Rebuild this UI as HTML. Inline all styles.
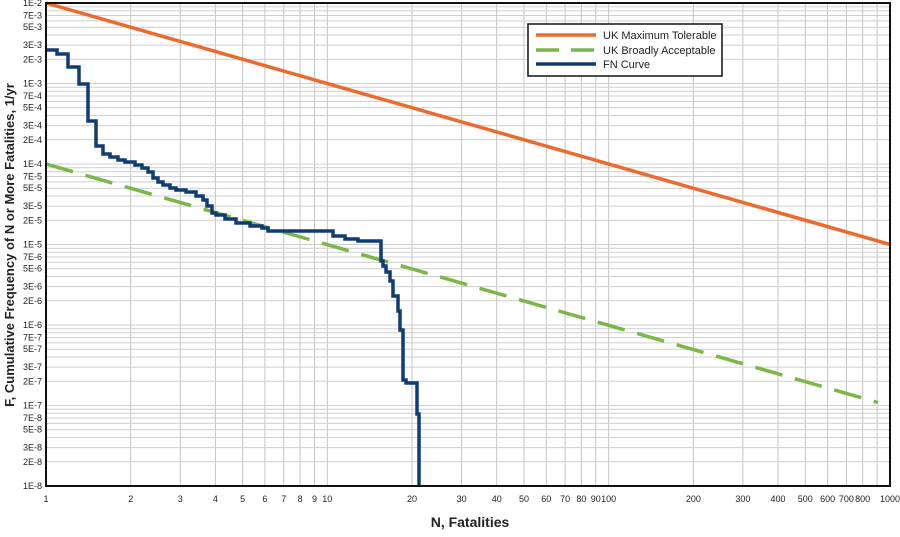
<!DOCTYPE html>
<html><head><meta charset="utf-8"><style>
body{margin:0;background:#fff;width:900px;height:532px;overflow:hidden}
svg text{font-family:"Liberation Sans",sans-serif}
</style></head><body>
<svg id="s" width="900" height="532" xmlns="http://www.w3.org/2000/svg"></svg>
<script>
const L=46,R=890,T=3,B=486;
const X=v=>L+Math.log10(v)*(R-L)/3;
const Y=v=>T+(-2-Math.log10(v))*(B-T)/6;
let h='';
for(let d=0;d<3;d++)for(let m=1;m<10;m++){const v=m*Math.pow(10,d);if(v>1&&v<1000){const x=X(v).toFixed(1);h+=`<line x1="${x}" y1="${T}" x2="${x}" y2="${B}" stroke="#c4c4c4" stroke-width="1"/>`;}}
for(let e=-8;e<-2;e++)for(let m=1;m<10;m++){const v=m*Math.pow(10,e);if(v>1e-8){const y=Y(v).toFixed(1);h+=`<line x1="${L}" y1="${y}" x2="${R}" y2="${y}" stroke="#cfcfcf" stroke-width="1"/>`;}}
// y labels
for(let e=-8;e<=-2;e++)for(const m of [1,2,3,5,7]){if(e==-2&&m>1)continue;const v=m*Math.pow(10,e);h+=`<text x="42" y="${(Y(v)+3).toFixed(1)}" font-size="9" text-anchor="end" fill="#222">${m}E${e}</text>`;}
// x labels
const xl=[1,2,3,4,5,6,7,8,9,10,20,30,40,50,60,70,80,90,100,200,300,400,500,600,700,800,1000];
for(const v of xl)h+=`<text x="${X(v).toFixed(1)}" y="502" font-size="9" text-anchor="middle" fill="#222">${v}</text>`;
// lines
h+=`<line x1="${L}" y1="${Y(1e-2)}" x2="${R}" y2="${Y(1e-5)}" stroke="#ec6a2c" stroke-width="3.5"/>`;
h+=`<line x1="${L}" y1="${Y(1e-4)}" x2="${X(1000)-12}" y2="${Y(1e-7)-3}" stroke="#7ab648" stroke-width="3.5" stroke-dasharray="28,13"/>`;
const p=[[46,50],[57,50],[57,54],[68,54],[68,67],[79,67],[79,84],[88,84],[88,121],[96,121],[96,146],[103,146],[103,154],[110,154],[110,157],[118,157],[118,160],[125,160],[125,162],[135,162],[135,165],[142,165],[142,168],[148,168],[148,172],[153,172],[153,178],[158,178],[158,182],[163,182],[163,185],[170,185],[170,188],[176,188],[176,190],[186,190],[186,192],[196,192],[196,196],[203,196],[203,200],[207,200],[207,206],[212,206],[212,213],[216,213],[216,215],[225,215],[225,219],[236,219],[236,223],[250,223],[250,226],[262,226],[262,228],[268,228],[268,231],[333,231],[333,236],[345,236],[345,239],[358,239],[358,241],[381,241],[381,261],[383,261],[383,266],[386,266],[386,272],[390,272],[390,281],[393,281],[393,296],[398,296],[398,311],[400,311],[400,330],[403,330],[403,380],[406,380],[406,383],[417,383],[417,414],[419,414],[419,486]];
h+=`<polyline points="${p.map(a=>a.join(',')).join(' ')}" fill="none" stroke="#0f3c72" stroke-width="3.5"/>`;
h+=`<rect x="${L}" y="${T}" width="${R-L}" height="${B-T}" fill="none" stroke="#111" stroke-width="2"/>`;
// legend
h+=`<rect x="528" y="24" width="194" height="52" fill="#fff" stroke="#111" stroke-width="1.5"/>`;
h+=`<line x1="536" y1="35" x2="596" y2="35" stroke="#ec6a2c" stroke-width="3.5"/><text x="603" y="39" font-size="11" fill="#222">UK Maximum Tolerable</text>`;
h+=`<line x1="536" y1="50" x2="596" y2="50" stroke="#7ab648" stroke-width="3.5" stroke-dasharray="23,12"/><text x="603" y="54" font-size="11" fill="#222">UK Broadly Acceptable</text>`;
h+=`<line x1="536" y1="64" x2="596" y2="64" stroke="#0f3c72" stroke-width="3.5"/><text x="603" y="68" font-size="11" fill="#222">FN Curve</text>`;
h+=`<text x="470" y="527" font-size="14" font-weight="bold" text-anchor="middle" fill="#222">N, Fatalities</text>`;
h+=`<text transform="translate(14,245) rotate(-90)" font-size="13" font-weight="bold" text-anchor="middle" fill="#222">F, Cumulative Frequency of N or More Fatalities, 1/yr</text>`;
document.getElementById('s').innerHTML=h;
</script>
</body></html>
